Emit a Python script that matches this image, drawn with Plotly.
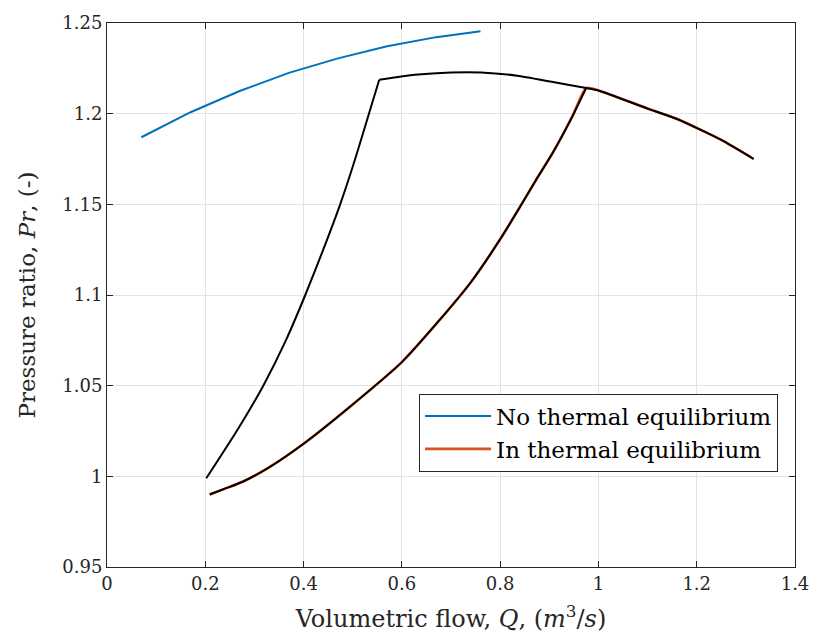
import plotly.graph_objects as go

# No thermal equilibrium (blue)
q_blue = [0.07, 0.17, 0.27, 0.37, 0.47, 0.57, 0.67, 0.76]
pr_blue = [1.187, 1.2008, 1.2125, 1.2225, 1.2305, 1.2372, 1.2422, 1.2455]

# Compressor characteristic (right of the surge point)
q_char = [0.554, 0.626, 0.700, 0.761, 0.835, 0.902, 0.975, 1.0, 1.1, 1.1625, 1.25, 1.316]
pr_char = [1.2187, 1.2214, 1.2227, 1.2227, 1.2209, 1.2177, 1.2141, 1.2128, 1.2028, 1.1968, 1.1855, 1.1750]

# Surge cycle: rising branch
q_up = [0.202, 0.264, 0.318, 0.364, 0.4035, 0.440, 0.4745, 0.505, 0.533, 0.554]
pr_up = [0.9989, 1.025, 1.050, 1.075, 1.100, 1.125, 1.150, 1.175, 1.200, 1.2187]

# Surge cycle: falling branch
q_down = [0.975, 0.947, 0.907, 0.8736, 0.8435, 0.800, 0.740, 0.673, 0.600, 0.4926, 0.400, 0.330, 0.276, 0.240, 0.209]
pr_down = [1.2141, 1.1985, 1.1784, 1.1637, 1.1500, 1.1307, 1.1069, 1.0850, 1.0630, 1.0380, 1.0180, 1.0050, 0.9970, 0.9932, 0.9900]

x_ticks = [0, 0.2, 0.4, 0.6, 0.8, 1.0, 1.2, 1.4]
x_labels = ["0", "0.2", "0.4", "0.6", "0.8", "1", "1.2", "1.4"]
y_ticks = [0.95, 1.0, 1.05, 1.1, 1.15, 1.2, 1.25]
y_labels = ["0.95", "1", "1.05", "1.1", "1.15", "1.2", "1.25"]

BLUE = "#0072BD"
ORANGE = "#D95319"
FONT = "DejaVu Serif"

fig = go.Figure()
fig.add_trace(go.Scatter(x=q_blue, y=pr_blue, mode="lines", name="No thermal equilibrium",
                         legendgroup="a", line=dict(color=BLUE, width=2)))
# in-equilibrium path (mostly hidden under the black cycle)
i_end = q_char.index(0.975)
q_or = q_down[::-1] + q_char[i_end + 1:]
pr_or = pr_down[::-1] + pr_char[i_end + 1:]
fig.add_trace(go.Scatter(x=q_or, y=pr_or, mode="lines", name="In thermal equilibrium",
                         legendgroup="b",
                         line=dict(color=ORANGE, width=2.6, shape="spline", smoothing=0.6)))
fig.add_trace(go.Scatter(x=q_up, y=pr_up, mode="lines", showlegend=False,
                         line=dict(color="black", width=2, shape="spline", smoothing=0.5)))
fig.add_trace(go.Scatter(x=q_char, y=pr_char, mode="lines", showlegend=False,
                         line=dict(color="black", width=2, shape="spline", smoothing=0.5)))
fig.add_trace(go.Scatter(x=q_down, y=pr_down, mode="lines", showlegend=False,
                         line=dict(color="black", width=2, shape="spline", smoothing=0.6)))

axis_common = dict(showgrid=True, gridcolor="#E3E3E3", gridwidth=1, zeroline=False,
                   showline=True, linecolor="#262626", linewidth=1, mirror="ticks",
                   ticks="inside", ticklen=6, tickcolor="#262626",
                   tickfont=dict(family=FONT, size=18, color="#262626"))

fig.update_layout(
    width=821, height=644,
    margin=dict(l=107, r=24, t=18, b=77),
    paper_bgcolor="white", plot_bgcolor="white",
    font=dict(family=FONT, color="#262626"),
    xaxis=dict(range=[0, 1.4], tickvals=x_ticks, ticktext=x_labels,
               title=dict(text="Volumetric flow, <i>Q</i>, (<i>m</i><sup>3</sup>/<i>s</i>)",
                          font=dict(family=FONT, size=24), standoff=17),
               **axis_common),
    yaxis=dict(range=[0.95, 1.25], tickvals=y_ticks, ticktext=y_labels,
               title=dict(text="Pressure ratio, <i>Pr</i>, (-)",
                          font=dict(family=FONT, size=23), standoff=20),
               **axis_common),
    legend=dict(x=0.4536, y=0.3188, xanchor="left", yanchor="top",
                bgcolor="white", bordercolor="#262626", borderwidth=1,
                font=dict(family=FONT, size=23, color="black"),
                itemwidth=66, tracegroupgap=0, traceorder="grouped"),
)

fig.write_html("out.html")
